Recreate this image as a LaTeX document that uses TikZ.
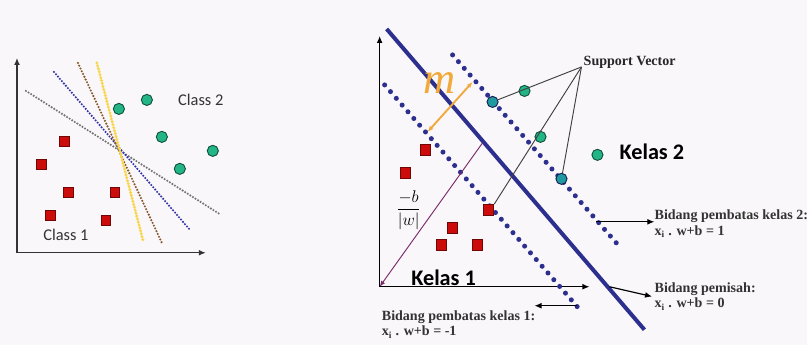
\documentclass[tikz,border=0pt]{standalone}
\usepackage{fontspec}
\usepackage{amsmath}
\setmainfont{Liberation Serif}
\newfontfamily\carlito{Carlito}
\usetikzlibrary{arrows.meta}

\definecolor{latar}{HTML}{F9F7F9}
\definecolor{biru}{HTML}{2C2F8E}
\definecolor{merah}{HTML}{CC0B0B}
\definecolor{hijau}{HTML}{24B586}
\definecolor{tosca}{HTML}{1E9AA0}
\definecolor{jingga}{HTML}{F2A93B}
\definecolor{ungu}{HTML}{7A2A6A}

\tikzset{
  kotak/.style={draw=merah!55!black, fill=merah, line width=0.7pt, minimum size=8.5pt, inner sep=0pt},
  bulat/.style={circle, draw=hijau!45!black, fill=hijau, line width=0.8pt, minimum size=9.5pt, inner sep=0pt},
  sv/.style={bulat, fill=tosca, draw=biru!60!black},
  sumbu/.style={line width=1.1pt, {Latex[length=6pt,width=5pt]}-{Latex[length=6pt,width=5pt]}},
  titik/.style={line width=2pt, line cap=round, dash pattern=on 0pt off 2.6pt},
  titikbesar/.style={biru, line width=4.3pt, line cap=round, dash pattern=on 0pt off 7.6pt},
  panah/.style={line width=1pt, -{Latex[length=6pt,width=5pt]}},
  ket/.style={font=\fontsize{12}{13}\selectfont\bfseries, align=left, inner sep=0pt}
}

\begin{document}
\begin{tikzpicture}[x=0.03cm, y=-0.03cm]
% Latar belakang (ukuran gambar)
\fill[latar] (0,0) rectangle (808,345);

% ---------------- Panel kiri ----------------
% Sumbu
\coordinate (Y1) at (17,58);
\coordinate (X1) at (206,253);
\draw[sumbu, black!80] (Y1) |- (X1);

% Garis pemisah kandidat (titik-titik)
\draw[titik, black!55] (26,91) -- (221,215);
\draw[titik, blue!55!black!80] (54,72) -- (190,230);
\draw[titik, brown!70!black] (78,63) -- (162,243);
\draw[titik, jingga!60!yellow!80, line width=2.8pt] (97,63) -- (143,240);

% Kelas 2 (bulat hijau)
\node[bulat] (a1) at (119,109) {};
\node[bulat] (a2) at (147,100) {};
\node[bulat] (a3) at (162,137) {};
\node[bulat] (a4) at (213,151) {};
\node[bulat] (a5) at (180,169) {};

% Kelas 1 (kotak merah)
\node[kotak] (b1) at (64,142) {};
\node[kotak] (b2) at (41,165) {};
\node[kotak] (b3) at (68,193) {};
\node[kotak] (b4) at (115,193) {};
\node[kotak] (b5) at (50,216) {};
\node[kotak] (b6) at (106,221) {};

\node[font=\carlito\fontsize{14}{16}\selectfont, text=black!80] (class2) at (201,100) {Class 2};
\node[font=\carlito\fontsize{14}{16}\selectfont, text=black!80] (class1) at (66,235) {Class 1};

% ---------------- Panel kanan ----------------
% Sumbu
\coordinate (Y2) at (380,36);
\coordinate (X2) at (590,287);
\coordinate (O2) at (380,287);
\draw[sumbu] (Y2) |- (X2);

% Bidang pembatas (titik-titik) dan bidang pemisah
\draw[titikbesar] (453,55) -- (622,249);
\draw[titikbesar] (385,85) -- (583,313);
\draw[biru, line width=3.4pt] (387,29) -- (645,330);

% Jarak -b/|w| dari titik asal
\coordinate (h) at (483,143);
\draw[ungu, line width=0.8pt, -{Latex[length=5pt,width=4pt]}] (h) -- (O2);
\node[font=\fontsize{15}{17}\selectfont] (frac) at (409,210) {$\dfrac{-b}{|w|}$};

% Margin m
\coordinate (m1) at (428,132);
\coordinate (m2) at (473,82);
\draw[jingga, line width=1.6pt, {Latex[length=5pt,width=4pt]}-{Latex[length=5pt,width=4pt]}] (m1) -- (m2);
\node[text=jingga, font=\fontsize{38}{40}\selectfont\itshape] (m) at (440,83) {m};

% Kelas 1 (kotak merah)
\node[kotak, minimum size=9pt] (k1) at (426,150) {};
\node[kotak, minimum size=9pt] (k2) at (406,173) {};
\node[kotak, minimum size=9pt] (k3) at (489,210) {};
\node[kotak, minimum size=9pt] (k4) at (453,228) {};
\node[kotak, minimum size=9pt] (k5) at (442,245) {};
\node[kotak, minimum size=9pt] (k6) at (478,245) {};

% Kelas 2 (bulat hijau)
\node[sv] (s1) at (493,102) {};
\node[bulat] (s2) at (525,91) {};
\node[bulat] (s3) at (541,137) {};
\node[sv] (s4) at (562,179) {};
\node[bulat] (s5) at (598,155) {};

% Support Vector
\node[ket, anchor=west, text=black!85] (svlabel) at (584,62) {Support Vector};
\coordinate (puncak) at (582,67);
\draw[black!75, line width=0.8pt] (puncak) -- (s1);
\draw[black!75, line width=0.8pt] (puncak) -- (k3.north east);
\draw[black!75, line width=0.8pt] (puncak) -- (s4);

% Label kelas
\node[font=\carlito\fontsize{19}{21}\selectfont\bfseries] (kelas1) at (444,278) {Kelas 1};
\node[font=\carlito\fontsize{19}{21}\selectfont\bfseries, anchor=west] (kelas2) at (616,152) {Kelas 2};

% Keterangan bidang
\node[ket, anchor=north west, text=black!80] (lbl2) at (655,210) {Bidang pembatas kelas 2:\\ x\textsubscript{i} . w+b = 1};
\node[ket, anchor=north west, text=black!80] (lbl0) at (655,283) {Bidang pemisah:\\ x\textsubscript{i} . w+b = 0};
\node[ket, anchor=north west, text=black!80] (lbl1) at (382,311) {Bidang pembatas kelas 1:\\ x\textsubscript{i} . w+b = -1};

\coordinate (t2) at (597,222);
\draw[panah] (t2) -- (t2 -| lbl2.west);
\coordinate (t0) at (610,287);
\draw[panah] (t0) -- ([xshift=-2pt]lbl0.west);
\coordinate (t1) at (578,306);
\coordinate (u1) at (535,306);
\draw[panah] (t1) -- (u1);
\end{tikzpicture}
\end{document}
